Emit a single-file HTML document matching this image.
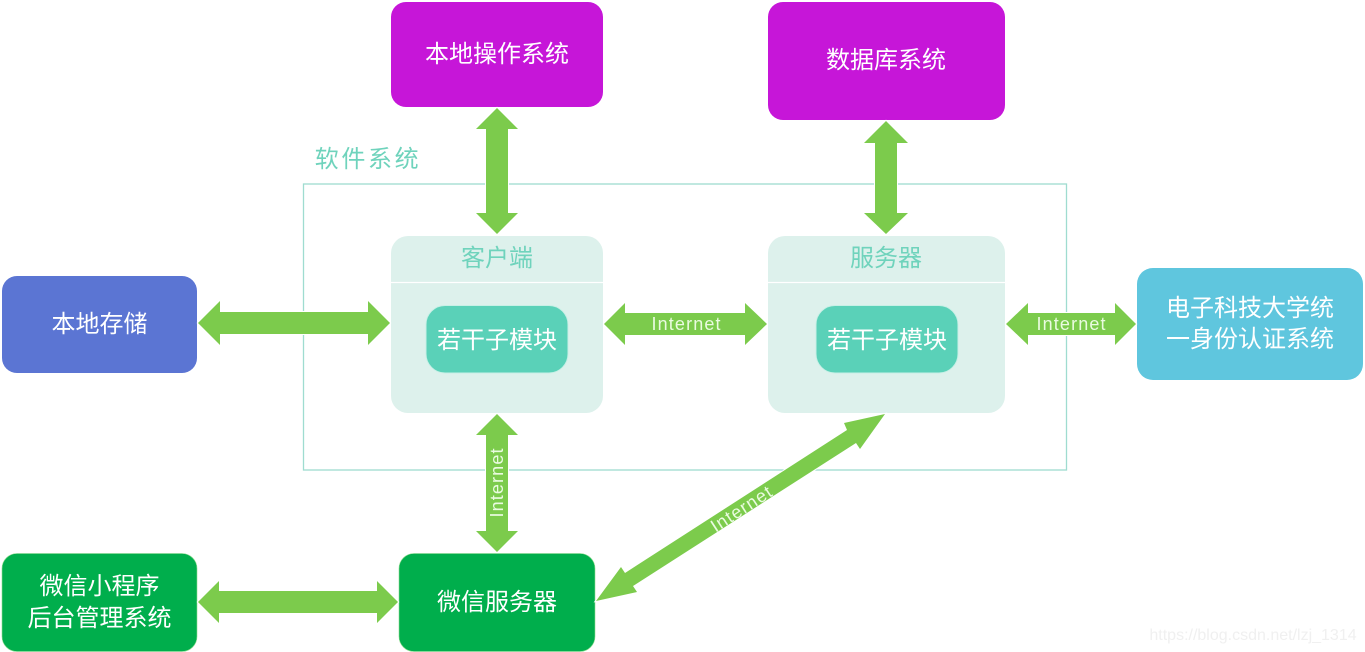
<!DOCTYPE html>
<html lang="zh">
<head>
<meta charset="utf-8">
<title>软件系统</title>
<style>
html,body{margin:0;padding:0;background:#fff;width:1365px;height:652px;overflow:hidden}
svg{display:block}
text{font-family:"Liberation Sans","Noto Sans CJK SC",sans-serif;text-anchor:middle}
.w{fill:#fff;font-size:24px}
.t{fill:#6fd3bc;font-size:24px}
.i{fill:#eafbe0;font-size:18px}
.a{fill:#7ccb4c;stroke:#fff;stroke-width:2;paint-order:stroke}
</style>
</head>
<body>
<svg width="1365" height="652" viewBox="0 0 1365 652" xmlns="http://www.w3.org/2000/svg">
<rect x="303.5" y="184" width="763" height="286" fill="none" stroke="#9fdcd0" stroke-width="1.3"/>
<text x="368" y="167" class="t" style="letter-spacing:2.6px">软件系统</text>

<rect x="391" y="2" width="212" height="105" rx="15" fill="#c616d8"/>
<text x="497" y="62" class="w">本地操作系统</text>
<rect x="768" y="2" width="237" height="118" rx="15" fill="#c616d8"/>
<text x="886" y="68" class="w">数据库系统</text>

<rect x="391" y="236" width="212" height="177" rx="17" fill="#ddf1ec"/>
<line x1="391" y1="282.5" x2="603" y2="282.5" stroke="#fff" stroke-width="1.3"/>
<text x="497" y="266" class="t">客户端</text>
<rect x="426" y="305.500" width="142" height="67.500" rx="19" fill="#5ad1b8" stroke="#c8f0e6" stroke-width="1"/>
<text x="497" y="348" class="w">若干子模块</text>

<rect x="768" y="236" width="237" height="177" rx="17" fill="#ddf1ec"/>
<line x1="768" y1="282.5" x2="1005" y2="282.5" stroke="#fff" stroke-width="1.3"/>
<text x="886" y="266" class="t">服务器</text>
<rect x="816" y="305.500" width="142" height="67.500" rx="19" fill="#5ad1b8" stroke="#c8f0e6" stroke-width="1"/>
<text x="887" y="348" class="w">若干子模块</text>

<rect x="2" y="276" width="195" height="97" rx="15" fill="#5b75d3"/>
<text x="99.500" y="332" class="w">本地存储</text>

<rect x="1137" y="268" width="226" height="112" rx="16" fill="#5fc6de"/>
<text x="1250" y="316" class="w">电子科技大学统</text>
<text x="1250" y="347" class="w">一身份认证系统</text>

<rect x="2" y="553.500" width="195" height="98" rx="15" fill="#00ae4c" stroke="#8fdc8f" stroke-width=".6"/>
<text x="99.500" y="594" class="w">微信小程序</text>
<text x="99.500" y="626" class="w">后台管理系统</text>
<rect x="399" y="553.500" width="196" height="98" rx="15" fill="#00ae4c" stroke="#8fdc8f" stroke-width=".6"/>
<text x="497" y="610" class="w">微信服务器</text>

<polygon class="a" points="497,108 518,129 508,129 508,213 518,213 497,234 476,213 486,213 486,129 476,129"/>
<polygon class="a" points="886,121 908,143 897,143 897,213 908,213 886,234 864,213 875,213 875,143 864,143"/>
<polygon class="a" points="198,323 220,301 220,312 368,312 368,301 390,323 368,345 368,334 220,334 220,345"/>
<polygon class="a" points="604,324 625,303 625,313 745,313 745,303 767,324 745,345 745,335 625,335 625,345"/>
<polygon class="a" points="1006,324 1028,303 1028,313 1115,313 1115,303 1136,324 1115,345 1115,335 1028,335 1028,345"/>
<polygon class="a" points="497,414 518,435 508,435 508,531 518,531 497,552 476,531 486,531 486,435 476,435"/>
<polygon class="a" points="198,602 219,581 219,591 377,591 377,581 398,602 377,623 377,613 219,613 219,623"/>
<polygon class="a" points="885,414 844,423 847,430 625,573 621,567 596,601 637,592 633,586 856,443 860,449"/>

<text x="686" y="330" class="i" textLength="69" lengthAdjust="spacing">Internet</text>
<text x="1071" y="330" class="i" textLength="69" lengthAdjust="spacing">Internet</text>
<text transform="translate(503,483) rotate(-90)" class="i" textLength="69" lengthAdjust="spacing">Internet</text>
<text transform="translate(744.500,514) rotate(-33)" class="i" textLength="69" lengthAdjust="spacing">Internet</text>

<text x="1253" y="640" style="font-size:16px;fill:#f0f0f0">https://blog.csdn.net/lzj_1314</text>
</svg>
</body>
</html>
